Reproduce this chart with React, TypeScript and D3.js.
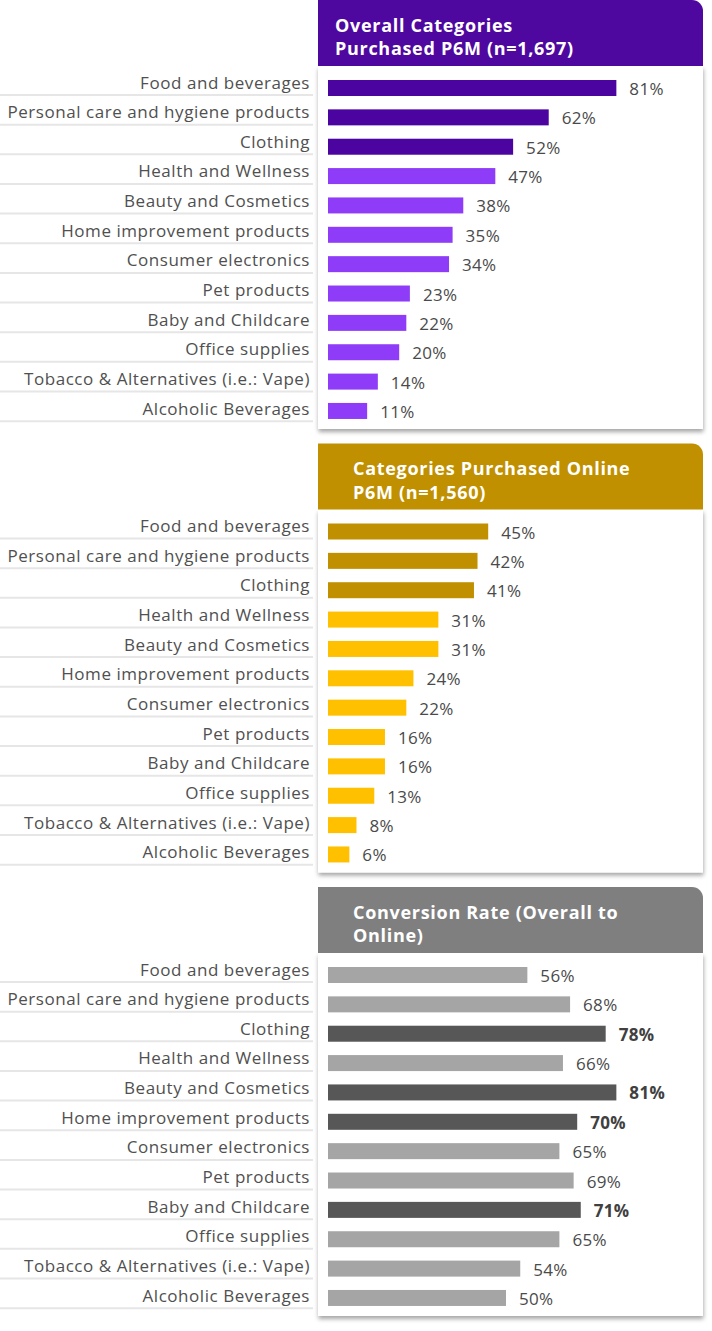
import React from "react";
import * as d3 from "d3";

const categories = [
  "Food and beverages",
  "Personal care and hygiene products",
  "Clothing",
  "Health and Wellness",
  "Beauty and Cosmetics",
  "Home improvement products",
  "Consumer electronics",
  "Pet products",
  "Baby and Childcare",
  "Office supplies",
  "Tobacco & Alternatives (i.e.: Vape)",
  "Alcoholic Beverages",
];

const overallValues = [81, 62, 52, 47, 38, 35, 34, 23, 22, 20, 14, 11];
const onlineValues = [45, 42, 41, 31, 31, 24, 22, 16, 16, 13, 8, 6];
const conversionValues = [56, 68, 78, 66, 81, 70, 65, 69, 71, 65, 54, 50];

const overallHighlighted = ["Food and beverages", "Personal care and hygiene products", "Clothing"];
const onlineHighlighted = ["Food and beverages", "Personal care and hygiene products", "Clothing"];
const conversionHighlighted = ["Clothing", "Beauty and Cosmetics", "Home improvement products", "Baby and Childcare"];

const panelTitles = [
  ["Overall Categories", "Purchased P6M (n=1,697)"],
  ["Categories Purchased Online", "P6M (n=1,560)"],
  ["Conversion Rate (Overall to", "Online)"],
];

const FONT = "'Open Sans', 'Noto Sans', sans-serif";

type Panel = {
  values: number[];
  highlighted: string[];
  title: string[];
  header: string;
  dark: string;
  light: string;
  titleX: number;
  boldHighlight: boolean;
};

const panels: Panel[] = [
  { values: overallValues, highlighted: overallHighlighted, title: panelTitles[0], header: "#4E079F", dark: "#4C04A0", light: "#8E3CF7", titleX: 335, boldHighlight: false },
  { values: onlineValues, highlighted: onlineHighlighted, title: panelTitles[1], header: "#C09000", dark: "#C09000", light: "#FFC000", titleX: 353, boldHighlight: false },
  { values: conversionValues, highlighted: conversionHighlighted, title: panelTitles[2], header: "#7F7F7F", dark: "#575757", light: "#A5A5A5", titleX: 353, boldHighlight: true },
];

const W = 712;
const H = 1331;
const PANEL_STEP = 443.5;
const CARD_X0 = 318;
const CARD_X1 = 703;
const HEADER_H = 66;
const CARD_BOTTOM = 429;
const BAR_H = 16;

const x = d3.scaleLinear().domain([0, 100]).range([328, 684]);

function headerPath(x0: number, y0: number, x1: number, y1: number, r: number) {
  const p = d3.path();
  p.moveTo(x0, y0);
  p.lineTo(x1 - r, y0);
  p.arcTo(x1, y0, x1, y0 + r, r);
  p.lineTo(x1, y1);
  p.lineTo(x0, y1);
  p.closePath();
  return p.toString();
}

function PanelView({ panel, index }: { panel: Panel; index: number }) {
  const top = index * PANEL_STEP;
  const labelStep = 29.65;
  const barStep = 29.36;
  const yLabel = d3
    .scaleBand<string>()
    .domain(categories)
    .range([top + 82 - labelStep / 2, top + 82 - labelStep / 2 + labelStep * categories.length])
    .padding(0);
  const yBar = d3
    .scaleBand<string>()
    .domain(categories)
    .range([top + 88 - barStep / 2, top + 88 - barStep / 2 + barStep * categories.length])
    .padding(0);

  return (
    <g>
      <rect
        x={CARD_X0}
        y={top + HEADER_H}
        width={CARD_X1 - CARD_X0}
        height={CARD_BOTTOM - HEADER_H}
        fill="#ffffff"
        filter="url(#cardShadow)"
      />
      <path d={headerPath(CARD_X0, top, CARD_X1, top + HEADER_H, 11)} fill={panel.header} />
      {panel.title.map((t, i) => (
        <text
          key={i}
          x={panel.titleX}
          y={top + 31.5 + i * 23.7}
          fill="#ffffff"
          fontFamily={FONT}
          fontWeight={700}
          fontSize={18}
          letterSpacing={0.7}
        >
          {t}
        </text>
      ))}
      {categories.map((c, i) => {
        const yc = yLabel(c)! + yLabel.bandwidth() / 2;
        const yb = yBar(c)! + yBar.bandwidth() / 2;
        const v = panel.values[i];
        const hl = panel.highlighted.includes(c);
        return (
          <g key={c}>
            <line x1={0} x2={313} y1={yc + 13} y2={yc + 13} stroke="#e6e6e6" strokeWidth={2} />
            <text
              x={310}
              y={yc}
              textAnchor="end"
              dominantBaseline="central"
              fill="#505050"
              fontFamily={FONT}
              fontSize={17}
              letterSpacing={0.55}
            >
              {c}
            </text>
            <rect
              x={x(0)}
              y={yb - BAR_H / 2}
              width={x(v) - x(0)}
              height={BAR_H}
              fill={hl ? panel.dark : panel.light}
            />
            <text
              x={x(v) + 13}
              y={yb + 0.5}
              dominantBaseline="central"
              fill={hl && panel.boldHighlight ? "#404040" : "#4a4a4a"}
              fontWeight={hl && panel.boldHighlight ? 700 : 400}
              fontFamily={FONT}
              fontSize={17}
              letterSpacing={0.3}
            >
              {v}%
            </text>
          </g>
        );
      })}
    </g>
  );
}

export default function App() {
  return (
    <svg
      width={W}
      height={H}
      viewBox={`0 0 ${W} ${H}`}
      style={{ position: "absolute", left: 0, top: 0, background: "#ffffff" }}
    >
      <defs>
        <filter id="cardShadow" x="-5%" y="-5%" width="112%" height="115%">
          <feDropShadow dx={0.5} dy={3} stdDeviation={2} floodColor="#000000" floodOpacity={0.35} />
        </filter>
      </defs>
      {panels.map((p, i) => (
        <PanelView key={i} panel={p} index={i} />
      ))}
    </svg>
  );
}
